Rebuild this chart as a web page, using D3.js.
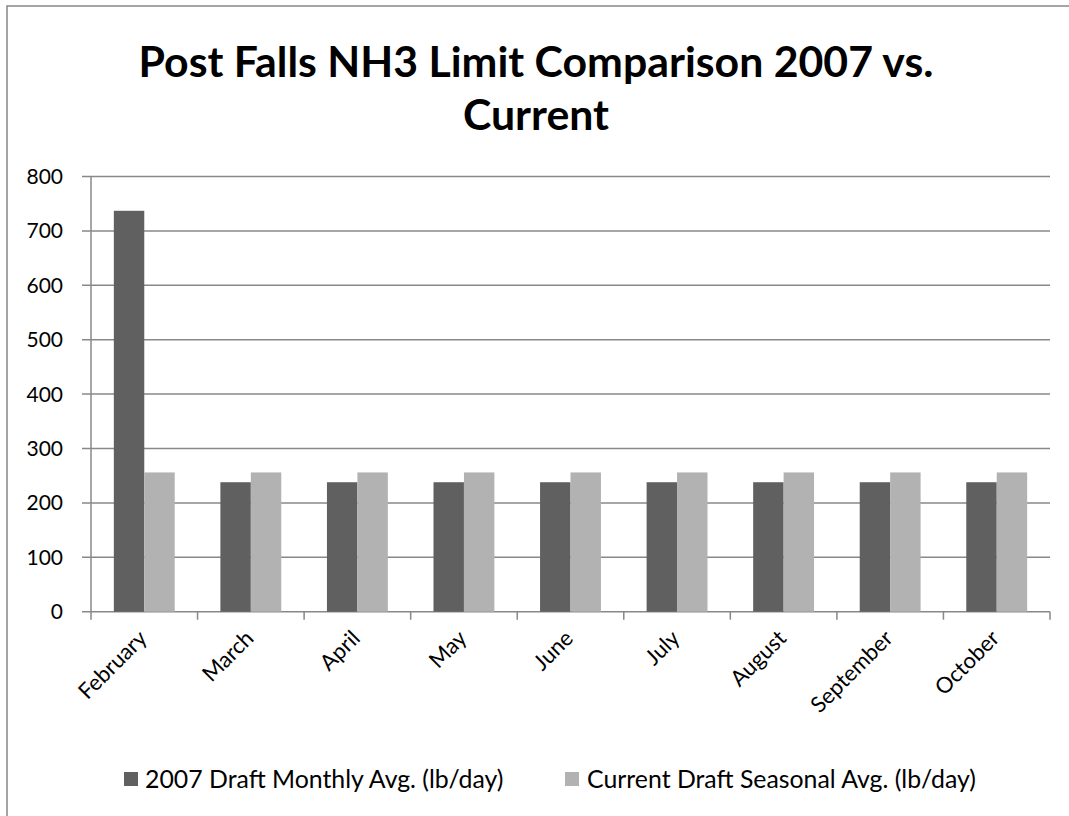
<!DOCTYPE html>
<html><head><meta charset="utf-8">
<script src="https://cdn.jsdelivr.net/npm/d3@7"></script>
<style>body{margin:0;background:#fff}svg{display:block}text{font-family:Lato,"Open Sans",sans-serif}</style>
</head><body>
<svg id="c" width="1069" height="816"></svg>
<script>
const categories = ["February","March","April","May","June","July","August","September","October"];
const series2007 = [737,238,238,238,238,238,238,238,238];
const seriesCurrent = [256,256,256,256,256,256,256,256,256];
const seriesNames = ["2007 Draft Monthly Avg. (lb/day)","Current Draft Seasonal Avg. (lb/day)"];
const yTicks = [0,100,200,300,400,500,600,700,800];
const titleLines = ["Post Falls NH3 Limit Comparison 2007 vs.","Current"];

const svg = d3.select("#c");
const colors = ["#606060","#b2b2b2"];
const L=91, R=1050, T=176.5, B=611.7;

// outer border (right/bottom cut off)
svg.append("rect").attr("x",7).attr("y",6).attr("width",1100).attr("height",900)
  .attr("fill","none").attr("stroke","#888").attr("stroke-width",1.5);

const x = d3.scaleBand().domain(categories).range([L,R]).paddingInner(0).paddingOuter(0);
const bw = x.bandwidth()/3.5;
const x1 = d3.scaleBand().domain([0,1]).range([0.75*bw, 2.75*bw]);
const y = d3.scaleLinear().domain([0,800]).range([B,T]);

// gridlines
svg.append("g").selectAll("line").data(yTicks).join("line")
  .attr("x1",L-9).attr("x2",R).attr("y1",d=>y(d)).attr("y2",d=>y(d))
  .attr("stroke","#888").attr("stroke-width",1.5);

// bars
const data = categories.map((c,i)=>({c, v:[series2007[i], seriesCurrent[i]]}));
const g = svg.append("g").selectAll("g").data(data).join("g")
  .attr("transform",d=>`translate(${x(d.c)},0)`);
g.selectAll("rect").data(d=>d.v.map((v,k)=>({v,k}))).join("rect")
  .attr("x",d=>x1(d.k)).attr("width",x1.bandwidth())
  .attr("y",d=>y(d.v)).attr("height",d=>B-y(d.v))
  .attr("fill",d=>colors[d.k]);

// y axis line
svg.append("line").attr("x1",L).attr("x2",L).attr("y1",T).attr("y2",B)
  .attr("stroke","#888").attr("stroke-width",1.5);
// x axis ticks
const tickXs = categories.map(c=>x(c)).concat([R]);
svg.append("g").selectAll("line").data(tickXs).join("line")
  .attr("x1",d=>d).attr("x2",d=>d).attr("y1",B).attr("y2",B+8)
  .attr("stroke","#888").attr("stroke-width",1.5);

// y labels
svg.append("g").selectAll("text").data(yTicks).join("text")
  .attr("x",63).attr("y",d=>y(d)).attr("dy","0.36em").attr("text-anchor","end")
  .attr("font-size",21).attr("fill","#000").text(d=>d);

// x labels
svg.append("g").selectAll("text").data(categories).join("text")
  .attr("text-anchor","end").attr("font-size",22).attr("fill","#000")
  .attr("transform",d=>`translate(${x(d)+x.bandwidth()/2+4},${B+28}) rotate(-45)`)
  .text(d=>d);

// title
const tt = svg.append("g");
titleLines.forEach((t,i)=>{
  tt.append("text").attr("x",536).attr("y",77+i*53).attr("text-anchor","middle")
    .attr("font-size",40).attr("font-weight","bold").attr("fill","#000").text(t);
});
const t0 = tt.select("text").node();
const fs = 40*795/t0.getComputedTextLength();
tt.selectAll("text").attr("font-size",fs);

// legend
const leg = [{x:124,tx:145},{x:565,tx:587}];
const lt = [];
seriesNames.forEach((n,i)=>{
  svg.append("rect").attr("x",leg[i].x).attr("y",772).attr("width",14).attr("height",14).attr("fill",colors[i]);
  lt.push(svg.append("text").attr("x",leg[i].tx).attr("y",779).attr("dy","0.36em")
    .attr("font-size",22).attr("fill","#000").text(n));
});
const lfs = 22*389/lt[1].node().getComputedTextLength();
lt.forEach(t=>t.attr("font-size",lfs));
</script>
</body></html>
